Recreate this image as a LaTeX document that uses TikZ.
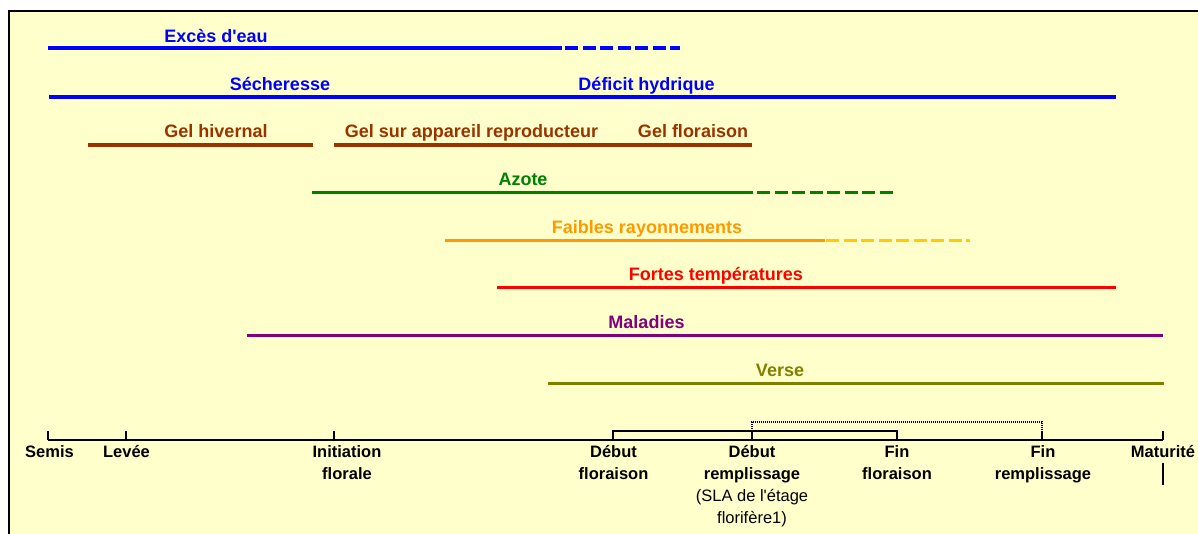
\documentclass[tikz,border=0pt]{standalone}
\usepackage{fontspec}
\setmainfont{Liberation Sans}
\definecolor{bg}{HTML}{FFFFCC}
\definecolor{cblue}{HTML}{0000FF}
\definecolor{cbrown}{HTML}{993300}
\definecolor{cgreen}{HTML}{008000}
\definecolor{corange}{HTML}{FF9900}
\definecolor{cyellow}{HTML}{FFCC00}
\definecolor{cred}{HTML}{FF0000}
\definecolor{cpurple}{HTML}{800080}
\definecolor{colive}{HTML}{808000}
\begin{document}
\begin{tikzpicture}[x=1pt,y=-1pt,
  lab/.style={font=\fontsize{18}{22}\selectfont\bfseries, anchor=base, inner sep=0pt},
  bar/.style={line width=3pt},
  dsh/.style={line width=3pt, dash pattern=on 13pt off 4.5pt},
  stage/.style={font=\fontsize{16.5}{22}\selectfont\bfseries, align=center, anchor=north, inner sep=0pt},
  axis/.style={line width=2pt}]
\useasboundingbox (0,0) rectangle (1198,533);
\clip (0,0) rectangle (1198,533);
\fill[white] (0,0) rectangle (1198,533);
\draw[line width=2pt, fill=bg] (9,11) rectangle (1215,550);

% labels
\node[lab, cblue] (exces) at (216,42) {Excès d\textquotesingle eau};
\node[lab, cblue] (sech) at (280,90) {Sécheresse};
\node[lab, cblue] (defic) at (646.5,90) {Déficit hydrique};
\node[lab, cbrown] (gelh) at (216,137) {Gel hivernal};
\node[lab, cbrown] (gelr) at (471.5,137) {Gel sur appareil reproducteur};
\node[lab, cbrown] (gelf) at (693,137) {Gel floraison};
\node[lab, cgreen] (azote) at (523,185) {Azote};
\node[lab, corange] (faib) at (647,233) {Faibles rayonnements};
\node[lab, cred] (fortes) at (716,280) {Fortes températures};
\node[lab, cpurple] (mal) at (646.5,328) {Maladies};
\node[lab, colive] (verse) at (780,376) {Verse};

% bars
\draw[bar, cblue, line width=4pt] (48,48) -- (562,48);
\draw[dsh, cblue, line width=4pt] (565,48) -- (680,48);
\draw[bar, cblue, line width=4pt] (49,97) -- (1116,97);
\draw[bar, cbrown, line width=3.5pt] (88,145) -- (313,145);
\draw[bar, cbrown, line width=3.5pt] (334,145) -- (752,145);
\draw[bar, cgreen] (312,192) -- (753,192);
\draw[dsh, cgreen] (757,192) -- (897,192);
\draw[bar, corange] (445,240) -- (825,240);
\draw[dsh, cyellow] (826,240) -- (970,240);
\draw[bar, cred] (497,287) -- (1116,287);
\draw[bar, cpurple] (247,335) -- (1163,335);
\draw[bar, colive] (548,383) -- (1164,383);

% axis
\coordinate (semis) at (48,440);
\coordinate (levee) at (126,440);
\coordinate (init) at (334,440);
\coordinate (dflo) at (613,440);
\coordinate (drem) at (752,440);
\coordinate (fflo) at (897,440);
\coordinate (frem) at (1042,440);
\coordinate (matu) at (1163,440);
\draw[axis] (semis) -- (matu);
\foreach \c in {semis,levee,init,drem,frem,matu}
  \draw[axis] (\c) -- ++(0,-9);
\draw[axis] (dflo) -- ++(0,-9) -| (fflo);
\draw[line width=1.2pt, dash pattern=on 1pt off 1pt] ([yshift=9pt]drem) -- ++(0,-9) -| ([yshift=9pt]frem);

% stage labels
\node[stage] (lsemis) at (49.5,445) {Semis};
\node[stage] (llevee) at (126.5,445) {Levée};
\node[stage] (linit) at (347,445) {Initiation\\florale};
\node[stage] (ldflo) at (613.5,445) {Début\\floraison};
\node[stage, font=\fontsize{16.5}{22}\selectfont] (ldrem) at (752,445) {\textbf{Début}\\\textbf{remplissage}\\(SLA de l\textquotesingle étage\\florifère1)};
\node[stage] (lfflo) at (897,445) {Fin\\floraison};
\node[stage] (lfrem) at (1043,445) {Fin\\remplissage};
\node[stage] (lmatu) at (1163,445) {Maturité};
\coordinate (mbar) at (1163,463);
\draw[line width=2.5pt] (mbar) -- ++(0,22);
\end{tikzpicture}
\end{document}
